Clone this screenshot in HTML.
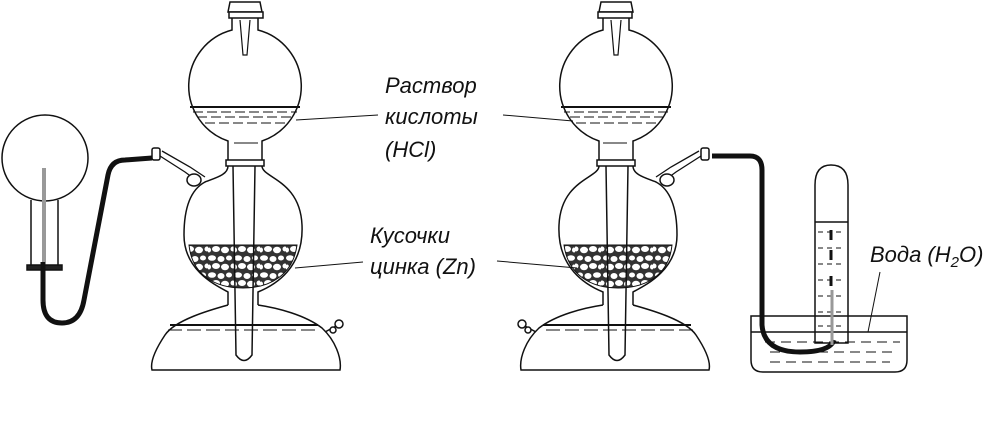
<!DOCTYPE html>
<html><head><meta charset="utf-8"><style>
body{margin:0;background:#fff;width:1006px;height:422px;overflow:hidden}
text{font-family:"Liberation Sans","DejaVu Sans",sans-serif;font-style:italic;font-size:22px;fill:#111}
</style></head><body>
<svg width="1006" height="422" viewBox="0 0 1006 422" xmlns="http://www.w3.org/2000/svg">
<defs>
<pattern id="st" width="26" height="17" patternUnits="userSpaceOnUse">
<rect width="26" height="17" fill="#333"/>
<ellipse cx="4" cy="3" rx="4" ry="2.8" fill="#fff"/>
<ellipse cx="13" cy="4" rx="3.5" ry="3" fill="#fff"/>
<ellipse cx="21" cy="3" rx="3" ry="2.5" fill="#fff"/>
<ellipse cx="8" cy="11" rx="4" ry="3" fill="#fff"/>
<ellipse cx="17" cy="12" rx="4" ry="3.2" fill="#fff"/>
<ellipse cx="25" cy="11" rx="2.5" ry="2.5" fill="#fff"/>
<ellipse cx="1" cy="12" rx="2" ry="2.5" fill="#fff"/>
</pattern>
<g id="kipp" fill="none" stroke="#111" stroke-width="1.5">
  <path d="M230 2 L228 12 L262 12 L260 2 Z" fill="#fff"/>
  <rect x="229" y="12" width="34" height="6" fill="#fff"/>
  <path d="M232 18 V30 A58 58 0 0 0 228 141 V160 M258 18 V30 A58 58 0 0 1 262 141 V160"/>
  <path d="M240 20 L243 55 L247 55 L250 20" stroke-width="1.2"/>
  <line x1="190" y1="107" x2="300" y2="107" stroke-width="2"/>
  <path d="M193 112 H297 M197 117 H293 M205 123 H285" stroke-width="1" stroke-dasharray="10 4"/>
  <line x1="234" y1="143" x2="258" y2="143" stroke-width="1"/>
  <rect x="226" y="160" width="38" height="6" fill="#fff"/>
  <path d="M228 166 C228 175 215 178 205 182 C190 190 184 210 184 235 C184 270 215 285 228 292 L228 305 M262 166 C262 178 300 180 302 225 C304 268 275 285 258 292 L258 305"/>
  <path d="M189 245 H297 C293 275 270 288 243 288 C215 288 192 275 189 245 Z" fill="url(#st)" stroke-width="1"/>
  <path d="M233 166 L236 355 Q244 366 252 355 L255 166" fill="none"/>
  <path d="M228 305 C210 310 175 320 165 335 C155 350 150 362 152 370 L340 370 C342 358 335 340 322 328 C305 315 278 308 258 305"/>
  <line x1="170" y1="325" x2="318" y2="325" stroke-width="2"/>
  <path d="M168 330 H320" stroke-width="1" stroke-dasharray="14 5"/>
  <path d="M200 183 L185 172 L160 156 M205 177 L190 167 L162 151" stroke-width="1.3"/>
  <ellipse cx="194" cy="180" rx="7" ry="6" fill="#fff"/>
  <rect x="152" y="148" width="8" height="12" rx="2" fill="#fff"/>
  <path d="M325 332 L338 325" />
  <circle cx="339" cy="324" r="4" fill="#fff"/>
  <circle cx="333" cy="330" r="3" fill="#fff"/>
</g>
</defs>
<use href="#kipp"/>
<use href="#kipp" transform="translate(861,0) scale(-1,1)"/>
<g fill="none" stroke="#111" stroke-width="1.5">
<circle cx="45" cy="158" r="43" fill="#fff"/>
<line x1="31" y1="200" x2="31" y2="266"/>
<line x1="58" y1="200" x2="58" y2="266"/>
<line x1="44" y1="168" x2="44" y2="262" stroke="#999" stroke-width="4"/>
<rect x="27" y="265" width="35" height="5" fill="#222"/>
<path d="M43 262 L43 300 Q43 323 62 323 Q80 323 84 300 L108 175 Q111 160 125 160 L152 158" stroke-width="5"/>
<path d="M712 156 L750 156 Q762 156 762 170 L762 325 Q764 352 800 352 Q830 352 834 340" stroke-width="5"/>
<path d="M751 316 H907 V360 Q907 372 895 372 H763 Q751 372 751 360 Z"/>
<line x1="751" y1="332" x2="907" y2="332"/>
<path d="M765 342 H900 M770 352 H895 M770 362 H890" stroke-width="1" stroke-dasharray="10 6"/>
<path d="M815 343 V185 Q815 165 831 165 Q848 165 848 185 V343 Z"/>
<line x1="815" y1="222" x2="848" y2="222"/>
<path d="M818 232 H845 M818 248 H845 M818 264 H845 M818 280 H845 M818 296 H845 M818 312 H845 M818 326 H845" stroke-width="1" stroke-dasharray="5 4"/>
<path d="M831 230 v10 M831 250 v10 M831 276 v10" stroke-width="3"/>
<line x1="832" y1="290" x2="832" y2="345" stroke="#999" stroke-width="3"/>
<g stroke-width="1"><line x1="378" y1="115" x2="296" y2="120"/><line x1="363" y1="262" x2="295" y2="268"/>
<line x1="503" y1="115" x2="573" y2="121"/><line x1="497" y1="261" x2="577" y2="268"/>
<line x1="880" y1="272" x2="868" y2="332"/></g>
</g>
<text x="385" y="93">Раствор</text>
<text x="385" y="124">кислоты</text>
<text x="385" y="157">(HCl)</text>
<text x="370" y="243">Кусочки</text>
<text x="370" y="274">цинка (Zn)</text>
<text x="870" y="262">Вода (H<tspan font-size="15" dy="5">2</tspan><tspan dy="-5">O)</tspan></text>
</svg>
</body></html>
